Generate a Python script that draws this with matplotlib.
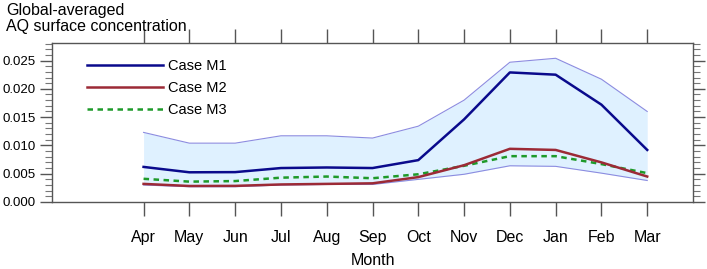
import matplotlib
matplotlib.use("Agg")
import matplotlib.pyplot as plt
from matplotlib.ticker import MultipleLocator

plt.rcParams['font.family'] = ['Liberation Sans', 'DejaVu Sans']

months = ["Apr", "May", "Jun", "Jul", "Aug", "Sep", "Oct", "Nov", "Dec", "Jan", "Feb", "Mar"]
case_m1 = [0.0062, 0.00525, 0.00528, 0.0060, 0.0061, 0.0060, 0.0074, 0.0146, 0.0229, 0.0225, 0.0172, 0.0092]
case_m2 = [0.0032, 0.00283, 0.00285, 0.0031, 0.0032, 0.0033, 0.0044, 0.0065, 0.0094, 0.0092, 0.0070, 0.0045]
case_m3 = [0.0041, 0.0036, 0.0037, 0.0043, 0.0045, 0.0042, 0.0049, 0.0064, 0.0081, 0.0081, 0.0067, 0.0051]
band_hi = [0.0123, 0.0104, 0.0104, 0.0117, 0.0117, 0.0113, 0.0134, 0.0180, 0.0247, 0.0254, 0.0217, 0.0160]
band_lo = [0.0030, 0.0027, 0.0027, 0.0030, 0.0031, 0.0031, 0.0040, 0.0049, 0.0064, 0.0063, 0.0051, 0.0038]

W, H = 707, 269
fig = plt.figure(figsize=(W / 100, H / 100), dpi=100)
ax = fig.add_axes([52 / W, 1 - 202 / H, (693 - 52) / W, (202 - 43) / H])

x = list(range(len(months)))
ax.fill_between(x, band_lo, band_hi, color="#dff1ff", lw=0, zorder=1)
ax.plot(x, band_hi, color="#8c8ce0", lw=0.8, zorder=2)
ax.plot(x, band_lo, color="#8c8ce0", lw=0.8, zorder=2)
l1, = ax.plot(x, case_m1, color="#0a0a8c", lw=1.8, zorder=4, label="Case M1")
l2, = ax.plot(x, case_m2, color="#9c2a36", lw=1.8, zorder=4, label="Case M2")
l3, = ax.plot(x, case_m3, color="#1e9a2a", lw=1.8, ls=(0, (2.2, 1.8)), zorder=3, label="Case M3")

ax.set_xlim(-2, 12)
ax.set_ylim(0, 0.0281)
ax.set_xticks(x)
ax.set_xticklabels(months, fontsize=11.5)
ax.yaxis.set_major_locator(MultipleLocator(0.005))
ax.yaxis.set_minor_locator(MultipleLocator(0.001))
ax.set_yticks([0, 0.005, 0.01, 0.015, 0.02, 0.025])
ax.set_yticklabels(["0.000", "0.005", "0.010", "0.015", "0.020", "0.025"], fontsize=9.5)

spc = "#555555"
for s in ax.spines.values():
    s.set_color(spc)
    s.set_linewidth(1.0)

ax.tick_params(axis='x', which='major', direction='out', length=10, width=1, color=spc,
               top=True, bottom=True, pad=10.5)
ax.tick_params(axis='y', which='major', direction='out', length=8.5, width=1, color=spc,
               left=True, right=True, pad=3.5)
ax.tick_params(axis='y', which='minor', direction='out', length=4.8, width=0.8, color="#777777",
               left=True, right=True)
ax.tick_params(axis='x', which='minor', bottom=False, top=False)

ax.set_xlabel("Month", fontsize=11.5, labelpad=5.5)

leg = ax.legend(handles=[l1, l2, l3], loc="upper left", bbox_to_anchor=(0.045, 0.935),
                frameon=False, fontsize=10.5, handlelength=5.2, handletextpad=0.4,
                labelspacing=0.55, borderaxespad=0)

fig.text(6 / W, 1 - 3 / H, "Global-averaged\nAQ surface concentration", ha="left", va="top",
         fontsize=11.5, linespacing=1.1)

fig.savefig("out.png", dpi=100)
